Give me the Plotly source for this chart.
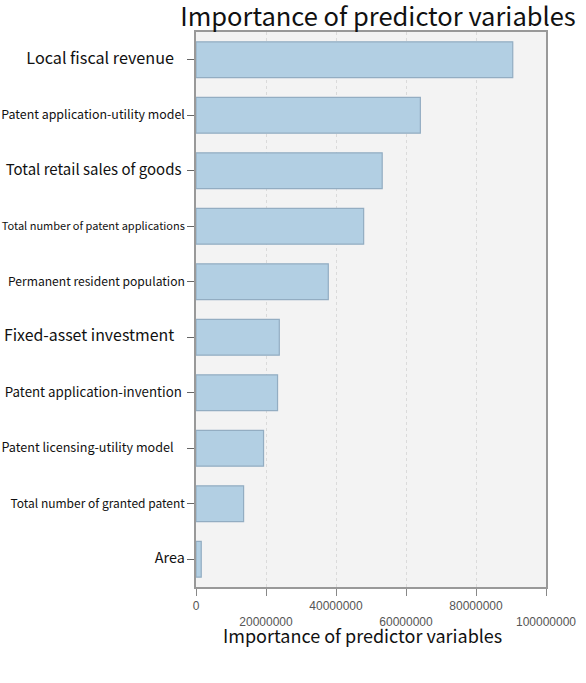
import plotly.graph_objects as go

# Variables, top to bottom as shown
variables = [
    "Local fiscal revenue",
    "Patent application-utility model",
    "Total retail sales of goods",
    "Total number of patent applications",
    "Permanent resident population",
    "Fixed-asset investment",
    "Patent application-invention",
    "Patent licensing-utility model",
    "Total number of granted patent",
    "Area",
]
importance = [90.5e6, 64.1e6, 53.2e6, 47.9e6, 37.8e6, 23.8e6, 23.3e6, 19.3e6, 13.6e6, 1.5e6]

# label font sizes differ in the original figure (and some have trailing spaces)
label_sizes = [16.2, 12.4, 15, 11, 12.1, 15.9, 13.3, 12.6, 12, 14.4]
label_pad = [3, 0, 1, 0, 0, 3, 1, 4, 0, 0]

x_ticks = [0, 20000000, 40000000, 60000000, 80000000, 100000000]

ylabels = [
    f'<span style="font-size:{s}px">{v}{chr(160) * p}</span>'
    for v, s, p in zip(variables, label_sizes, label_pad)
]
# staggered x tick labels
xlabels = [("<br>" if i % 2 else "") + str(t) for i, t in enumerate(x_ticks)]

fig = go.Figure(go.Bar(
    x=importance,
    y=variables,
    orientation="h",
    marker=dict(color="#b2cfe3", line=dict(color="#93adc2", width=1.2)),
))

fig.update_layout(
    width=586,
    height=683,
    margin=dict(l=196, r=40, t=32, b=96),
    paper_bgcolor="white",
    plot_bgcolor="#f3f3f3",
    font=dict(family="Noto Sans CJK SC, Noto Sans, sans-serif", color="#111"),
    bargap=0.355,
    showlegend=False,
    title=dict(
        text="Importance of predictor variables",
        font=dict(size=25.5, color="#111"),
        x=378 / 586, xref="container", xanchor="center",
        y=1 - 17.5 / 683, yref="container", yanchor="middle",
    ),
    annotations=[dict(
        text="Importance of predictor variables",
        font=dict(size=18, color="#111"),
        xref="paper", x=0.476, xanchor="center",
        yref="paper", y=0, yshift=-48, yanchor="middle",
        showarrow=False,
    )],
)

fig.update_xaxes(
    range=[0, 100000000],
    tickvals=x_ticks,
    ticktext=xlabels,
    tickfont=dict(size=12, color="#555", family="Liberation Sans, Arial, sans-serif"),
    ticks="outside", ticklen=7, tickcolor="#888",
    showgrid=True, gridcolor="#dadada", griddash="dot", gridwidth=1,
    showline=True, linecolor="#999", linewidth=1.5, mirror=True,
    zeroline=False,
    automargin=False,
)
fig.update_yaxes(
    categoryorder="array",
    categoryarray=variables,
    tickvals=variables,
    ticktext=ylabels,
    autorange="reversed",
    ticks="outside", ticklen=7, tickcolor="#666",
    tickfont=dict(color="#111"),
    showline=True, linecolor="#999", linewidth=1.5, mirror=True,
    showgrid=False,
    automargin=False,
)

# drop the default page margin so the figure fills the window
fig.write_html(
    "out.html",
    config={"displayModeBar": False},
    post_script="document.body.style.margin='0';",
)
